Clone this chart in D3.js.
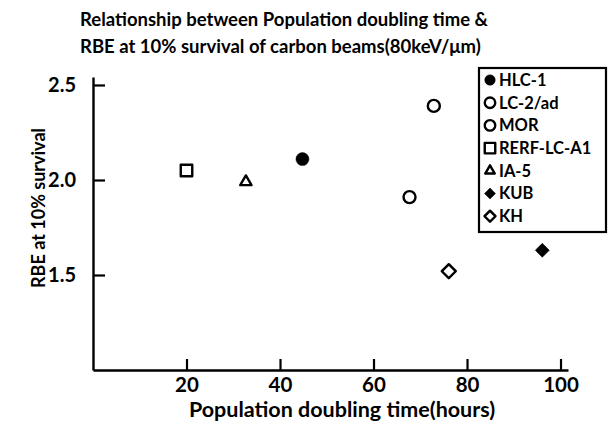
<!DOCTYPE html>
<html><head><meta charset="utf-8">
<script src="https://cdn.jsdelivr.net/npm/d3@7"></script>
<style>body{margin:0;background:#fff}svg{display:block}text{font-family:Lato,"Open Sans",sans-serif;font-weight:700;fill:#000}</style>
</head><body><svg width="610" height="425"></svg>
<script>
const names = ["HLC-1","LC-2/ad","MOR","RERF-LC-A1","IA-5","KUB","KH"];
const doublingTime = [44.8, 72.9, 67.7, 20.0, 32.7, 96.1, 76.1];
const rbe = [2.11, 2.39, 1.91, 2.05, 1.99, 1.63, 1.52];
const symbols = ["filledCircle","circle","circle","square","triangle","filledDiamond","diamond"];
const xTicks = [20,40,60,80,100];
const yTicks = [1.5,2.0,2.5];
const titleLines = ["Relationship between Population doubling time &","RBE at 10% survival of carbon beams(80keV/\u03bcm)"];

const svg = d3.select("svg");
const x = d3.scaleLinear().domain([0,101.6]).range([93,568]);
const y = d3.scaleLinear().domain([1.0,2.542]).range([370,77]);

// title
svg.append("g").selectAll("text").data(titleLines).join("text")
  .attr("x",80).attr("y",(d,i)=>26+i*27).attr("font-size",18.5).text(d=>d);

// axes
const xAxis = d3.axisBottom(x).tickValues(xTicks).tickSizeInner(-11).tickSizeOuter(0).tickPadding(22).tickFormat(d3.format("d"));
const gx = svg.append("g").attr("transform","translate(0,370)").call(xAxis);
gx.select(".domain").attr("stroke-width",2.4);
gx.selectAll(".tick line").attr("stroke-width",2.2);
gx.selectAll(".tick text").attr("font-size",20.5).attr("dy",0);

const yAxis = d3.axisLeft(y).tickValues(yTicks).tickSizeInner(-12).tickSizeOuter(0).tickPadding(17).tickFormat(d3.format(".1f"));
const gy = svg.append("g").attr("transform","translate(93,0)").call(yAxis);
gy.select(".domain").attr("stroke-width",2.4);
gy.selectAll(".tick line").attr("stroke-width",2.2);
gy.selectAll(".tick text").attr("font-size",20);

svg.append("text").attr("x",342).attr("y",417).attr("text-anchor","middle").attr("font-size",21.5)
  .text("Population doubling time(hours)");
svg.append("text").attr("transform","translate(45,208) rotate(-90)").attr("text-anchor","middle").attr("font-size",18)
  .text("RBE at 10% survival");

function symPath(kind, s){
  const base = kind.replace("filled","").toLowerCase();
  const t = {circle:d3.symbolCircle,square:d3.symbolSquare,triangle:d3.symbolTriangle,diamond:d3.symbolSquare}[base];
  let area;
  if(base==="circle") area = Math.PI*(s/2)*(s/2);
  else if(base==="square") area = s*s;
  else if(base==="triangle") area = s*s*Math.sqrt(3)/4*0.75;
  else area = s*s*0.5;
  return d3.symbol(t, area)();
}
function drawSym(g, kind, cx, cy, s){
  const filled = kind.startsWith("filled");
  const base = kind.replace("filled","").toLowerCase();
  let rot = base==="diamond" ? 45 : 0;
  g.append("path").attr("d",symPath(kind,s))
    .attr("transform",`translate(${cx},${cy}) rotate(${rot})`)
    .attr("fill",filled?"#000":"none").attr("stroke","#000")
    .attr("stroke-width",filled?0.5:2.4).attr("stroke-linejoin","round");
}
const pts = svg.append("g");
names.forEach((n,i)=>{
  const s = symbols[i]==="filledCircle"?13:(symbols[i]==="square"?11.5:(symbols[i]==="triangle"?13:(symbols[i].includes("iamond")?14:12)));
  drawSym(pts, symbols[i], x(doublingTime[i]), y(rbe[i]), s);
});

// legend
const lg = svg.append("g");
lg.append("rect").attr("x",479).attr("y",68).attr("width",127).attr("height",164)
  .attr("fill","#fff").attr("stroke","#000").attr("stroke-width",2.2);
names.forEach((n,i)=>{
  const cy = 80 + i*22.7;
  const s = symbols[i].includes("iamond")?11:(symbols[i]==="triangle"?11:10.5);
  drawSym(lg, symbols[i], 490, cy, s);
  lg.append("text").attr("x",499).attr("y",cy).attr("dy","0.36em").attr("font-size",16.5).text(n);
});
</script></body></html>
